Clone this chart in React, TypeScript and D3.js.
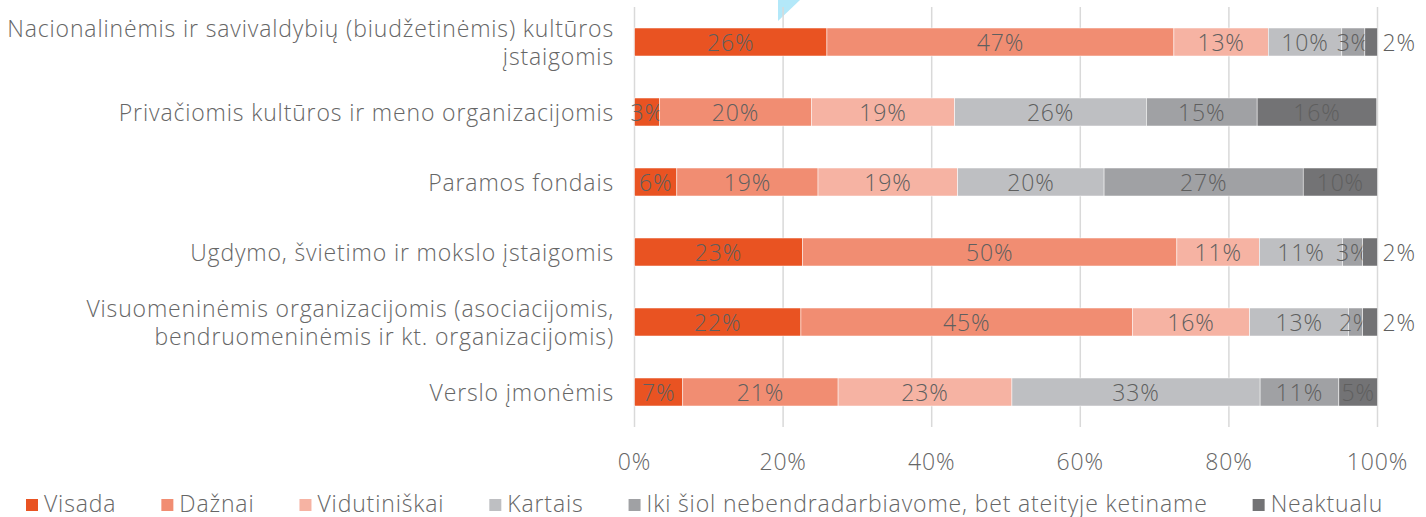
import React, { useEffect, useRef } from "react";
import * as d3 from "d3";

const categories = [
  "Nacionalinėmis ir savivaldybių (biudžetinėmis) kultūros\nįstaigomis",
  "Privačiomis kultūros ir meno organizacijomis",
  "Paramos fondais",
  "Ugdymo, švietimo ir mokslo įstaigomis",
  "Visuomeninėmis organizacijomis (asociacijomis,\nbendruomeninėmis ir kt. organizacijomis)",
  "Verslo įmonėmis",
];

const seriesNames = [
  "Visada",
  "Dažnai",
  "Vidutiniškai",
  "Kartais",
  "Iki šiol nebendradarbiavome, bet ateityje ketiname",
  "Neaktualu",
];

const visada = [25.9, 3.4, 5.7, 22.6, 22.4, 6.5];
const daznai = [46.7, 20.4, 19.0, 50.4, 44.6, 20.9];
const vidutiniskai = [12.7, 19.3, 18.8, 11.1, 15.8, 23.4];
const kartais = [9.9, 25.8, 19.7, 11.2, 13.3, 33.4];
const ikiSiol = [3.1, 14.9, 26.8, 2.7, 1.9, 10.6];
const neaktualu = [1.7, 16.1, 10.0, 2.0, 2.0, 5.2];

const seriesValues = [visada, daznai, vidutiniskai, kartais, ikiSiol, neaktualu];
const colors = ["#E95322", "#F18D72", "#F6B3A3", "#BEBFC2", "#A0A1A4", "#737375"];

const xTicks = [0, 20, 40, 60, 80, 100];

const FONT = "'Open Sans', sans-serif";
const FS = 23;
const LS = 0.85;

export default function App() {
  const ref = useRef<SVGSVGElement | null>(null);

  useEffect(() => {
    const svg = d3.select(ref.current);
    svg.selectAll("*").remove();

    const x = d3.scaleLinear().domain([0, 100]).range([634.5, 1377.5]);
    const y = d3.scaleBand<string>().domain(categories).range([7, 427]).paddingInner(0.6).paddingOuter(0.3);

    const styleText = (sel: any) =>
      sel.attr("font-family", FONT).attr("font-weight", 300).attr("font-size", FS)
        .attr("letter-spacing", LS);

    // decoration triangle at top
    svg.append("path")
      .attr("d", d3.line()([[778, 0], [800, 0], [778, 21]]) + "Z")
      .attr("fill", "#B3E8F9");

    // gridlines
    svg.append("g").selectAll("line").data(xTicks).join("line")
      .attr("x1", d => x(d)).attr("x2", d => x(d))
      .attr("y1", 7).attr("y2", 427)
      .attr("stroke", "#D9D9D9").attr("stroke-width", 1.5);

    // tick labels
    svg.append("g").selectAll("text").data(xTicks).join("text")
      .attr("x", d => x(d)).attr("y", 461)
      .attr("text-anchor", "middle").attr("dominant-baseline", "central")
      .call(styleText)
      .attr("fill", "#666").text(d => d + "%");

    // stacked data
    const rows = categories.map((c, i) => {
      const obj: any = { cat: c };
      seriesNames.forEach((s, j) => (obj[s] = seriesValues[j][i]));
      return obj;
    });
    const stack = d3.stack<any>().keys(seriesNames)(rows);
    const last = seriesNames.length - 1;

    stack.forEach((layer, j) => {
      const g = svg.append("g");
      g.selectAll("rect").data(layer).join("rect")
        .attr("x", d => x(d[0]))
        .attr("width", d => x(d[1]) - x(d[0]))
        .attr("y", d => y(d.data.cat)!)
        .attr("height", y.bandwidth())
        .attr("fill", colors[j])
        .attr("stroke", "#fff").attr("stroke-width", 0.5);
      const outside = (d: any) => j === last && d[1] - d[0] < 2.5;
      g.selectAll("text").data(layer).join("text")
        .attr("x", d => (outside(d) ? x(d[1]) + 5 : (x(d[0]) + x(d[1])) / 2))
        .attr("text-anchor", d => (outside(d) ? "start" : "middle"))
        .attr("y", d => y(d.data.cat)! + y.bandwidth() / 2)
        .attr("dominant-baseline", "central")
        .call(styleText)
        .attr("fill", "#5F5F5F")
        .text(d => Math.round(d[1] - d[0]) + "%");
    });

    // category labels
    const cl = svg.append("g");
    categories.forEach(c => {
      const lines = c.split("\n");
      const cy = y(c)! + y.bandwidth() / 2;
      lines.forEach((ln, k) => {
        cl.append("text")
          .attr("x", 614)
          .attr("y", cy + (k - (lines.length - 1) / 2) * 28)
          .attr("text-anchor", "end").attr("dominant-baseline", "central")
          .call(styleText)
          .attr("fill", "#666").text(ln);
      });
    });

    // legend
    const lg = svg.append("g");
    let lx = 26;
    seriesNames.forEach((s, j) => {
      lg.append("rect").attr("x", lx).attr("y", 499).attr("width", 12).attr("height", 12).attr("fill", colors[j]);
      const t = lg.append("text").attr("x", lx + 18).attr("y", 503)
        .attr("dominant-baseline", "central")
        .call(styleText)
        .attr("fill", "#666").text(s);
      const w = (t.node() as SVGTextElement).getComputedTextLength();
      lx += 18 + w + 45;
    });
  }, []);

  return (
    <svg ref={ref} width={1426} height={517}
      style={{ position: "absolute", left: 0, top: 0, background: "#fff" }} />
  );
}
